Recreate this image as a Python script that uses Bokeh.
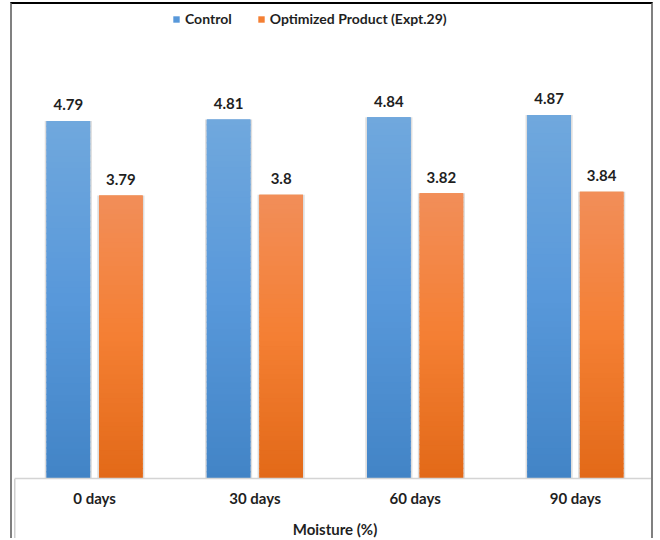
from bokeh.plotting import figure
from bokeh.models import (ColumnDataSource, Range1d, FactorRange, LabelSet,
                          Legend, LegendItem)
from bokeh.core.properties import value
from bokeh.transform import dodge
from bokeh.embed import file_html
from bokeh.resources import INLINE

# Data
days = ["0 days", "30 days", "60 days", "90 days"]
control = [4.79, 4.81, 4.84, 4.87]
optimized = [3.79, 3.80, 3.82, 3.84]
series_names = ["Control", "Optimized Product (Expt.29)"]

FONT = "Lato"
TEXT = "#1f1f1f"
OFFSET = 0.164
BAR_W = 0.272

# gradient stops (top, middle, bottom) for each series
blue_stops = [(112, 168, 221), (88, 152, 218), (66, 132, 198)]
orange_stops = [(242, 142, 89), (244, 127, 51), (226, 105, 24)]


def lerp(stops, t):
    """t = 0 at bar top, 1 at bar bottom"""
    if t <= 0.5:
        a, b, u = stops[0], stops[1], t / 0.5
    else:
        a, b, u = stops[1], stops[2], (t - 0.5) / 0.5
    return "#%02x%02x%02x" % tuple(int(round(a[i] + (b[i] - a[i]) * u)) for i in range(3))


def slices(values, stops, n=60):
    xs, bottoms, tops, colors = [], [], [], []
    for d, v in zip(days, values):
        for k in range(n):
            lo = v * k / n
            hi = min(v, v * (k + 1) / n + v * 0.004)
            xs.append(d)
            bottoms.append(lo)
            tops.append(hi)
            colors.append(lerp(stops, 1 - (k + 0.5) / n))
    return ColumnDataSource(dict(day=xs, bottom=bottoms, top=tops, color=colors))


p = figure(x_range=FactorRange(*days, range_padding=0), y_range=Range1d(0, 6.35),
           width=643, height=536, output_backend="svg", toolbar_location=None,
           y_axis_location=None, min_border_left=2, min_border_right=0,
           min_border_top=0, min_border_bottom=61)
# chart-area border, plus the thin rule at the left of the category band
p.styles = {"margin-left": "10px", "margin-top": "2px",
            "border-top": "2px solid #000000",
            "border-left": "2px solid #808080",
            "border-right": "2px solid #808080",
            "background": "linear-gradient(#cfcfcf, #cfcfcf) 2px 475px / 1.5px 80px no-repeat, #ffffff"}
p.outline_line_color = None
p.xgrid.grid_line_color = None
p.ygrid.grid_line_color = None
p.background_fill_color = "white"
p.border_fill_color = None

src = ColumnDataSource(dict(day=days, control=control, optimized=optimized,
                            control_lbl=[f"{v:g}" for v in control],
                            optimized_lbl=[f"{v:g}" for v in optimized]))

renderers = []
for field, off, stops in (("control", -OFFSET, blue_stops), ("optimized", OFFSET, orange_stops)):
    x = dodge("day", off, range=p.x_range)
    # soft shadow around each bar
    p.vbar(x=x, top=field, width=BAR_W + 0.022, bottom=0, source=src,
           fill_color="#b5b5b5", fill_alpha=0.45, line_color=None)
    base = p.vbar(x=x, top=field, width=BAR_W, bottom=0, source=src,
                  fill_color=lerp(stops, 0.5), line_color=None)
    renderers.append(base)
    p.vbar(x=x, top="top", bottom="bottom", width=BAR_W, source=slices(
        src.data[field], stops), fill_color="color", line_color=None)
    p.add_layout(LabelSet(x=x, y=field, text=field + "_lbl", source=src,
                          text_align="center", text_baseline="middle",
                          y_offset=16, text_font=value(FONT),
                          text_font_style="bold", text_font_size="15px",
                          text_color=TEXT))

legend = Legend(items=[LegendItem(label=n, renderers=[r]) for n, r in zip(series_names, renderers)],
                orientation="horizontal", location=(158, 451),
                glyph_width=8, glyph_height=8, label_standoff=5, spacing=25,
                padding=2, margin=0, border_line_color=None,
                background_fill_alpha=0, label_text_font=FONT,
                label_text_font_style="bold", label_text_font_size="14px",
                label_text_color=TEXT)
p.add_layout(legend, "center")

ax = p.xaxis[0]
ax.axis_label = "Moisture (%)"
ax.axis_label_text_font = FONT
ax.axis_label_text_font_style = "bold"
ax.axis_label_text_font_size = "15px"
ax.axis_label_text_color = TEXT
ax.axis_label_standoff = 10
ax.major_label_text_font = FONT
ax.major_label_text_font_style = "bold"
ax.major_label_text_font_size = "15px"
ax.major_label_text_color = TEXT
ax.major_label_standoff = 4
ax.axis_line_color = "#d4d4d4"
ax.axis_line_width = 1.5
ax.major_tick_line_color = None
ax.minor_tick_line_color = None

open("out.html", "w").write(file_html(p, INLINE))
